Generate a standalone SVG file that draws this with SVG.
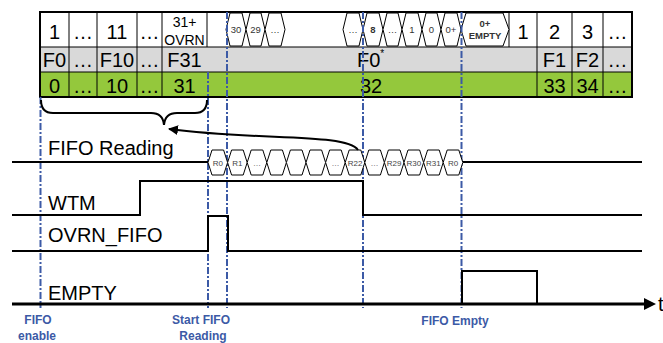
<svg xmlns="http://www.w3.org/2000/svg" width="663" height="343" viewBox="0 0 663 343">
<style>
.big{font-family:"Liberation Sans",Arial,sans-serif;font-size:20px;fill:#000;text-anchor:middle}
.mid{font-family:"Liberation Sans",Arial,sans-serif;font-size:14px;fill:#000;text-anchor:middle}
.hx{font-family:"Liberation Sans",Arial,sans-serif;font-size:9.5px;fill:#333;text-anchor:middle}
.rx{font-family:"Liberation Sans",Arial,sans-serif;font-size:8px;fill:#444;text-anchor:middle}
.lbl{font-family:"Liberation Sans",Arial,sans-serif;font-size:20px;fill:#000}
.ev{font-family:"Liberation Sans",Arial,sans-serif;font-size:12px;font-weight:bold;fill:#3c5aa6;text-anchor:middle}
.hex{fill:#fff;stroke:#000;stroke-width:1}
.thin{stroke:#000;stroke-width:1;fill:none}
.sig{stroke:#000;stroke-width:2;fill:none}
.dd{stroke:#3c5aa6;stroke-width:2;stroke-dasharray:7 2 2 2;fill:none}
</style>
<defs>
<marker id="ah" viewBox="0 0 10 10" refX="9" refY="5" markerWidth="10" markerHeight="10" markerUnits="userSpaceOnUse" orient="auto">
<path d="M0,0 L10,5 L0,10 z" fill="#000"/>
</marker>
</defs>

<g id="table">
<rect x="40" y="12" width="592" height="35" fill="#fff"/>
<rect x="40" y="47" width="592" height="25" fill="#d9d9d9"/>
<rect x="40" y="72" width="592" height="25" fill="#94c83c"/>
<path class="thin" d="M69,12V97 M97,12V97 M137,12V97 M162,12V97 M207,12V47 M509,12V47 M537,12V97 M572,12V97 M603,12V97 M40,47H632 M40,72H632"/>
<rect x="40" y="12" width="592" height="85" fill="none" stroke="#000" stroke-width="2"/>
<text class="big" x="54.5" y="39">1</text>
<text class="big" x="83" y="39">…</text>
<text class="big" x="117" y="39">11</text>
<text class="big" x="149.5" y="39">…</text>
<text class="mid" x="184.5" y="27">31+</text>
<text class="mid" x="184.5" y="45">OVRN</text>
<text class="big" x="523" y="39">1</text>
<text class="big" x="554.5" y="39">2</text>
<text class="big" x="587.5" y="39">3</text>
<text class="big" x="617.5" y="39">…</text>
<text class="big" x="54.5" y="67">F0</text>
<text class="big" x="83" y="67">…</text>
<text class="big" x="117" y="67">F10</text>
<text class="big" x="149.5" y="67">…</text>
<text class="big" x="184.5" y="67">F31</text>
<text class="big" x="357" y="67" style="text-anchor:start">F0<tspan dy="-10" font-size="10">*</tspan></text>
<text class="big" x="554.5" y="67">F1</text>
<text class="big" x="587.5" y="67">F2</text>
<text class="big" x="617.5" y="67">…</text>
<text class="big" x="54.5" y="93">0</text>
<text class="big" x="83" y="93">…</text>
<text class="big" x="117" y="93">10</text>
<text class="big" x="149.5" y="93">…</text>
<text class="big" x="184.5" y="93">31</text>
<text class="big" x="371" y="93">32</text>
<text class="big" x="554.5" y="93">33</text>
<text class="big" x="587.5" y="93">34</text>
<text class="big" x="617.5" y="93">…</text>
</g>

<g id="fifo-sequence">
<polygon class="hex" points="226,29.5 230,13 242,13 246,29.5 242,46 230,46"/>
<polygon class="hex" points="246,29.5 250,13 261,13 265,29.5 261,46 250,46"/>
<polygon class="hex" points="265,29.5 269,13 281,13 285,29.5 281,46 269,46"/>
<polygon class="hex" points="343,29.5 347,13 359,13 363,29.5 359,46 347,46"/>
<polygon class="hex" points="363,29.5 367,13 379,13 383,29.5 379,46 367,46"/>
<polygon class="hex" points="383,29.5 387,13 398,13 402,29.5 398,46 387,46"/>
<polygon class="hex" points="402,29.5 406,13 418,13 422,29.5 418,46 406,46"/>
<polygon class="hex" points="422,29.5 426,13 437,13 441,29.5 437,46 426,46"/>
<polygon class="hex" points="441,29.5 445,13 457,13 461,29.5 457,46 445,46"/>
<polygon class="hex" points="461,29.5 466,13 503,13 509,29.5 503,46 466,46"/>
<text class="hx" x="236" y="33">30</text>
<text class="hx" x="255.5" y="33">29</text>
<text class="hx" x="275" y="33">…</text>
<text class="hx" x="353" y="33">…</text>
<text class="hx" x="373" y="33" font-weight="bold">8</text>
<text class="hx" x="392.5" y="33">…</text>
<text class="hx" x="412" y="33">1</text>
<text class="hx" x="431.5" y="33">0</text>
<text class="hx" x="451" y="33">0+</text>
<text class="hx" x="485" y="27" font-size="9" font-weight="bold">0+</text>
<text class="hx" x="485" y="39" font-size="9" font-weight="bold">EMPTY</text>
</g>

<g id="event-lines">
<path class="dd" d="M40.5,97V308"/>
<path class="dd" d="M208,72V308"/>
<path class="dd" d="M227,12V308"/>
<path class="dd" d="M363,12V308"/>
<path class="dd" d="M461.5,12V308"/>
<text class="ev" x="38" y="324">FIFO</text>
<text class="ev" x="37" y="340">enable</text>
<text class="ev" x="201" y="324">Start FIFO</text>
<text class="ev" x="203" y="340">Reading</text>
<text class="ev" x="455" y="325">FIFO Empty</text>
</g>

<g id="fifo-reading">
<text class="lbl" x="48" y="155">FIFO Reading</text>
<path class="sig" d="M12,162H208 M463,162H642"/>
<g>
<polygon class="hex" points="208,162.5 212,150 223.6,150 227.6,162.5 223.6,175 212,175"/>
<polygon class="hex" points="227.6,162.5 231.6,150 243.2,150 247.2,162.5 243.2,175 231.6,175"/>
<polygon class="hex" points="247.2,162.5 251.2,150 262.8,150 266.8,162.5 262.8,175 251.2,175"/>
<polygon class="hex" points="266.8,162.5 270.8,150 282.4,150 286.4,162.5 282.4,175 270.8,175"/>
<polygon class="hex" points="286.4,162.5 290.4,150 302,150 306,162.5 302,175 290.4,175"/>
<polygon class="hex" points="306,162.5 310,150 321.6,150 325.6,162.5 321.6,175 310,175"/>
<polygon class="hex" points="325.6,162.5 329.6,150 341.2,150 345.2,162.5 341.2,175 329.6,175"/>
<polygon class="hex" points="345.2,162.5 349.2,150 360.8,150 364.8,162.5 360.8,175 349.2,175"/>
<polygon class="hex" points="364.8,162.5 368.8,150 380.4,150 384.4,162.5 380.4,175 368.8,175"/>
<polygon class="hex" points="384.4,162.5 388.4,150 400,150 404,162.5 400,175 388.4,175"/>
<polygon class="hex" points="404,162.5 408,150 419.6,150 423.6,162.5 419.6,175 408,175"/>
<polygon class="hex" points="423.6,162.5 427.6,150 439.2,150 443.2,162.5 439.2,175 427.6,175"/>
<polygon class="hex" points="443.2,162.5 447.2,150 458.8,150 462.8,162.5 458.8,175 447.2,175"/>
</g>
<text class="rx" x="217.8" y="165.5">R0</text>
<text class="rx" x="237.4" y="165.5">R1</text>
<text class="rx" x="257" y="165.5">…</text>
<text class="rx" x="335.4" y="165.5">…</text>
<text class="rx" x="355" y="165.5">R22</text>
<text class="rx" x="374.6" y="165.5">…</text>
<text class="rx" x="394.2" y="165.5">R29</text>
<text class="rx" x="413.8" y="165.5">R30</text>
<text class="rx" x="433.4" y="165.5">R31</text>
<text class="rx" x="453" y="165.5">R0</text>
</g>

<g id="wtm">
<text class="lbl" x="48" y="210">WTM</text>
<path class="sig" d="M12,215H140V181H363V215H642"/>
</g>

<g id="ovrn-fifo">
<text class="lbl" x="48" y="242">OVRN_FIFO</text>
<path class="sig" d="M12,251H208V216H228V251H642"/>
</g>

<g id="empty">
<text class="lbl" x="48" y="300">EMPTY</text>
<path d="M12,304H646" stroke="#000" stroke-width="3" fill="none"/>
<polygon points="644,298 656,304 644,310" fill="#000"/>
<path class="sig" d="M462,304V271H537V304"/>
<text class="lbl" x="658" y="311">t</text>
</g>

<g id="connectors">
<path class="sig" stroke-width="1.3" d="M41,100Q41,113 53,113H151Q163,113 164,125Q165,113 177,113H195Q207,113 207,100"/>
<path class="sig" d="M358,150C346,133 260,141 169,129" marker-end="url(#ah)"/>
</g>
</svg>
